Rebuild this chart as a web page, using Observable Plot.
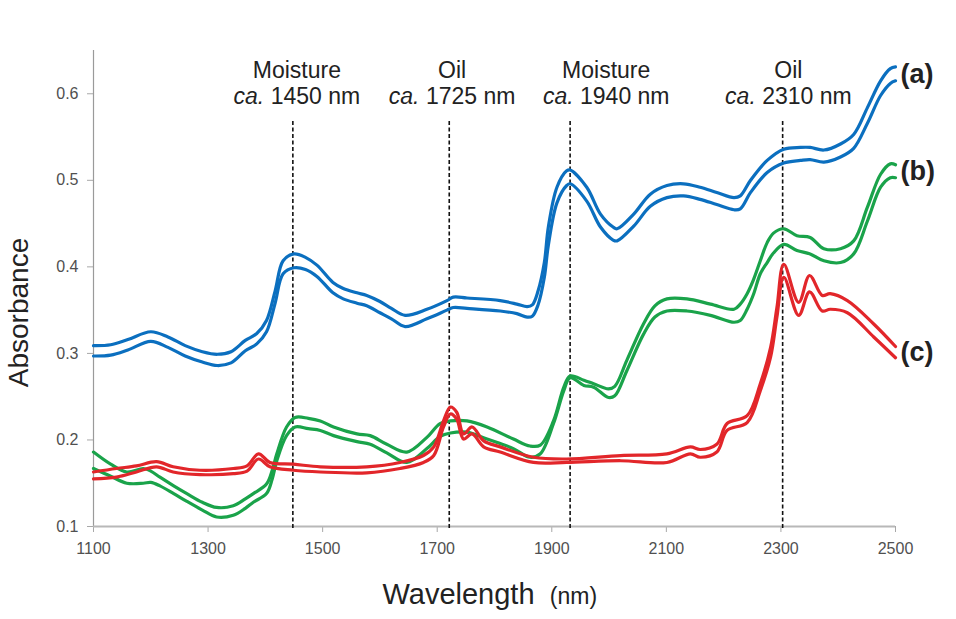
<!DOCTYPE html>
<html><head><meta charset="utf-8">
<script src="https://cdn.jsdelivr.net/npm/d3@7"></script>
<script src="https://cdn.jsdelivr.net/npm/@observablehq/plot@0.6"></script>
<style>body{margin:0;background:#fff;}</style>
</head><body><div id="chart"></div>
<script>
// (a) blue spectra, two replicates
const wlA = [1100,1130,1160,1200,1230,1260,1290,1316,1340,1365,1385,1402,1417,1431,1450,1470,1490,1518,1536,1560,1577,1600,1620,1644,1682,1717,1728,1752,1810,1839,1857,1866,1876,1887,1894,1909,1926,1932,1961,1985,2007,2014,2043,2072,2101,2130,2159,2188,2218,2229,2247,2276,2305,2334,2351,2375,2404,2427,2451,2474,2491,2500];
const a1 = [0.309,0.310,0.316,0.325,0.319,0.309,0.302,0.299,0.302,0.315,0.323,0.338,0.372,0.407,0.415,0.411,0.402,0.382,0.375,0.370,0.367,0.360,0.352,0.344,0.351,0.361,0.365,0.364,0.361,0.357,0.354,0.356,0.372,0.405,0.446,0.492,0.511,0.512,0.492,0.461,0.446,0.444,0.461,0.484,0.494,0.496,0.492,0.486,0.480,0.482,0.500,0.523,0.536,0.538,0.538,0.535,0.542,0.553,0.584,0.615,0.629,0.631];
const a2 = [0.297,0.298,0.304,0.314,0.307,0.297,0.290,0.286,0.289,0.303,0.311,0.325,0.358,0.392,0.399,0.397,0.389,0.370,0.363,0.358,0.355,0.347,0.340,0.331,0.340,0.350,0.353,0.352,0.349,0.346,0.342,0.343,0.356,0.388,0.425,0.474,0.494,0.496,0.476,0.446,0.431,0.430,0.447,0.470,0.480,0.482,0.478,0.472,0.466,0.467,0.486,0.509,0.520,0.523,0.524,0.521,0.527,0.537,0.566,0.598,0.612,0.615];

// (b) green spectra, two replicates
const wlB = [1100,1130,1158,1187,1200,1216,1240,1263,1290,1315,1344,1365,1379,1402,1412,1420,1437,1452,1475,1496,1519,1560,1583,1612,1647,1682,1705,1723,1752,1787,1833,1862,1880,1903,1921,1932,1956,1973,1999,2010,2031,2060,2080,2101,2136,2177,2218,2229,2241,2252,2264,2276,2287,2305,2328,2351,2375,2404,2427,2451,2474,2491,2500];
const b1 = [0.186,0.172,0.163,0.167,0.164,0.157,0.147,0.138,0.128,0.122,0.124,0.132,0.138,0.149,0.165,0.184,0.215,0.226,0.225,0.222,0.215,0.207,0.205,0.195,0.186,0.203,0.219,0.222,0.222,0.215,0.201,0.193,0.194,0.222,0.261,0.274,0.269,0.265,0.259,0.262,0.292,0.334,0.355,0.363,0.363,0.357,0.351,0.357,0.369,0.385,0.407,0.428,0.439,0.444,0.436,0.434,0.421,0.421,0.430,0.469,0.507,0.519,0.518];
const b2 = [0.167,0.158,0.150,0.150,0.151,0.147,0.138,0.129,0.119,0.111,0.113,0.121,0.128,0.138,0.155,0.176,0.205,0.215,0.213,0.211,0.205,0.198,0.195,0.185,0.174,0.190,0.204,0.208,0.209,0.201,0.190,0.180,0.184,0.219,0.257,0.272,0.263,0.261,0.249,0.251,0.280,0.322,0.342,0.349,0.349,0.344,0.336,0.338,0.351,0.368,0.392,0.405,0.416,0.426,0.419,0.415,0.407,0.405,0.415,0.453,0.492,0.503,0.503];

// (c) red spectra, two replicates
const wlC = [1100,1140,1175,1210,1239,1286,1344,1368,1388,1408,1449,1496,1577,1635,1676,1694,1711,1723,1734,1746,1761,1781,1810,1868,1926,2020,2101,2142,2159,2188,2206,2241,2264,2282,2293,2305,2331,2350,2372,2386,2416,2462,2500];
const c1 = [0.163,0.167,0.170,0.175,0.169,0.165,0.167,0.170,0.184,0.174,0.172,0.169,0.169,0.174,0.182,0.192,0.222,0.238,0.232,0.207,0.215,0.199,0.192,0.180,0.178,0.182,0.184,0.192,0.189,0.195,0.219,0.228,0.265,0.307,0.353,0.403,0.359,0.390,0.367,0.369,0.361,0.334,0.308];
const c2 = [0.155,0.157,0.163,0.169,0.163,0.160,0.161,0.164,0.178,0.169,0.165,0.163,0.162,0.167,0.174,0.182,0.215,0.230,0.224,0.201,0.207,0.192,0.186,0.174,0.174,0.176,0.174,0.184,0.180,0.186,0.211,0.220,0.257,0.296,0.342,0.388,0.344,0.371,0.349,0.351,0.347,0.319,0.295];

// annotations: band line positions, label centres (nm), and texts
const bandLineX = [1448, 1721, 1932, 2303];
const bandLabelX = [1455, 1726, 1995, 2313];
const bandName = ["Moisture", "Oil", "Moisture", "Oil"];
const bandNm = ["1450 nm", "1725 nm", "1940 nm", "2310 nm"];
const yTicks = [0.1, 0.2, 0.3, 0.4, 0.5, 0.6];
const xTicks = [1100, 1300, 1500, 1700, 1900, 2100, 2300, 2500];

const series = [
  {label: "(a)", wl: wlA, reps: [a1, a2], color: "#0b6fbf"},
  {label: "(b)", wl: wlB, reps: [b1, b2], color: "#1aa34a"},
  {label: "(c)", wl: wlC, reps: [c1, c2], color: "#e2262a"}
];

const lineMarks = [];
for (const s of series) {
  for (const v of s.reps) {
    const rows = s.wl.map((w, i) => ({wl: w, abs: v[i]}));
    lineMarks.push(Plot.line(rows, {x: "wl", y: "abs", stroke: s.color, strokeWidth: 3.2, curve: "catmull-rom"}));
  }
}
const endLabels = series.map(s => ({
  label: s.label,
  wl: s.wl[s.wl.length - 1],
  abs: (s.reps[0][s.reps[0].length - 1] + s.reps[1][s.reps[1].length - 1]) / 2
}));
const bandLines = bandLineX.map(x => ({x}));
const bandLabels = bandLabelX.map((x, i) => ({x, name: bandName[i], nm: bandNm[i]}));

const font = "'Liberation Sans', Arial, sans-serif";
const fs = 23;
const plot = Plot.plot({
  width: 956, height: 619,
  marginTop: 50, marginLeft: 93, marginRight: 61, marginBottom: 93,
  style: {fontFamily: font, fontSize: "16px", color: "#505050", background: "#fff"},
  x: {domain: [1100, 2500], ticks: xTicks, tickFormat: d => String(d), tickSize: 6, tickPadding: 10, label: null},
  y: {domain: [0.1, 0.65], ticks: yTicks, tickFormat: d3.format(".1f"), tickSize: 6, tickPadding: 9, label: null},
  marks: [
    Plot.ruleX([1100], {stroke: "#9a9a9a", strokeWidth: 1.2}),
    Plot.ruleY([0.1], {stroke: "#b8b8b8", strokeWidth: 2}),
    Plot.ruleX(bandLines, {x: "x", stroke: "#111", strokeWidth: 1.6, strokeDasharray: "4,2.5", insetTop: 71, insetBottom: -2}),
    ...lineMarks,
    Plot.text(bandLabels, {x: "x", text: "name", frameAnchor: "top", dy: 27, lineAnchor: "bottom", fontSize: fs, fill: "#222"}),
    Plot.text(bandLabels, {x: "x", text: () => "ca.", frameAnchor: "top", dy: 53, dx: -32.6, textAnchor: "end", lineAnchor: "bottom", fontSize: fs, fontStyle: "italic", fill: "#222"}),
    Plot.text(bandLabels, {x: "x", text: "nm", frameAnchor: "top", dy: 53, dx: -26.2, textAnchor: "start", lineAnchor: "bottom", fontSize: fs, fill: "#222"}),
    Plot.text(endLabels, {x: "wl", y: "abs", text: "label", dx: 5, textAnchor: "start", fontSize: 27, fontWeight: "bold", fill: "#222"}),
    Plot.text(["Absorbance"], {frameAnchor: "left", textAnchor: "middle", dx: -74.5, dy: 24, rotate: -90, fontSize: 28, fill: "#222"}),
    Plot.text(["Wavelength"], {frameAnchor: "bottom", textAnchor: "middle", dx: -36, dy: 77, lineAnchor: "bottom", fontSize: 29, fill: "#222"}),
    Plot.text(["(nm)"], {frameAnchor: "bottom", textAnchor: "middle", dx: 79, dy: 77, lineAnchor: "bottom", fontSize: 23, fill: "#222"})
  ]
});
document.getElementById("chart").appendChild(plot);
d3.select(plot).selectAll('[aria-label="x-axis tick"], [aria-label="y-axis tick"]').attr("stroke", "#a8a8a8");
</script>
</body></html>
